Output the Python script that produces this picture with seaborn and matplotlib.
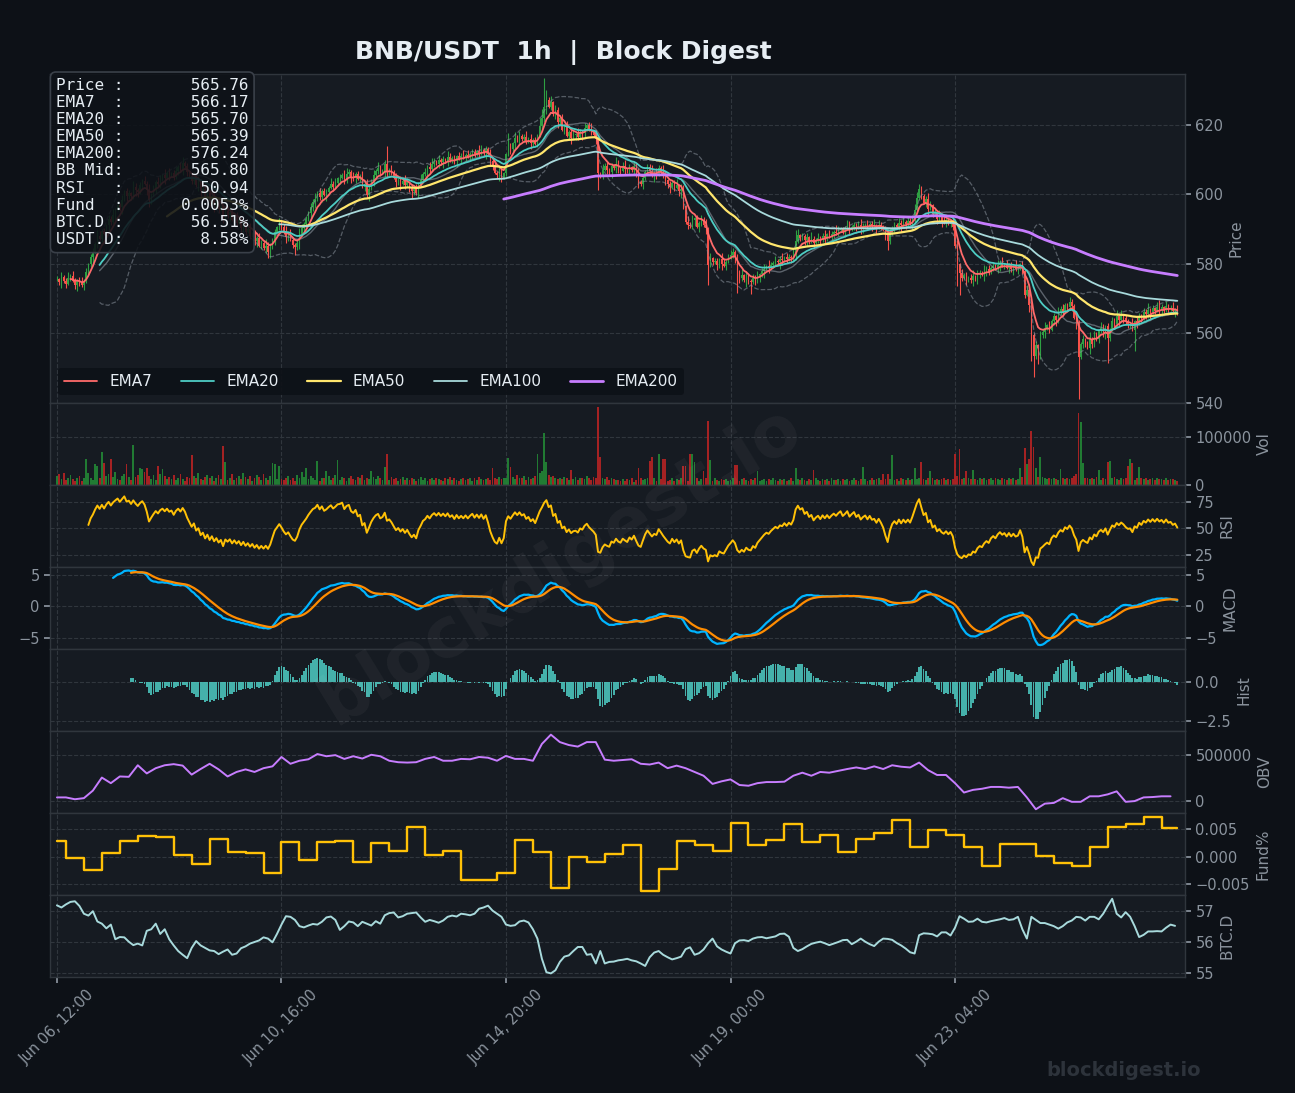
import numpy as np
import pandas as pd
import matplotlib
matplotlib.use("Agg")
import matplotlib.pyplot as plt
import matplotlib.dates as mdates
from matplotlib.ticker import MultipleLocator
import seaborn as sns

# ---- data (1h candles) ----
N = 500
dates = pd.date_range("2025-06-06 12:00", periods=N, freq="h")

close = np.array([
    575.5, 574.8, 576.2, 575.0, 574.2, 575.8, 576.5, 575.1, 574.0, 575.2,   # 0
    574.5, 573.8, 575.0, 577.5, 579.8, 582.0, 583.5, 585.8, 588.0, 587.2,
    589.5, 588.6, 591.0, 592.8, 591.9, 594.0, 595.5, 597.0, 596.2, 598.4,
    600.8, 599.5, 600.2, 599.4, 602.0, 601.2, 600.6, 602.5, 603.8, 603.0,
    601.2, 598.2, 600.0, 601.8, 603.5, 602.8, 604.6, 605.5, 604.8, 606.2,
    605.4, 606.0, 604.9, 606.8, 607.9, 607.2, 609.0, 608.1, 606.5, 605.2,   # 50
    603.8, 605.0, 602.6, 603.4, 600.8, 601.6, 599.2, 600.4, 598.0, 599.2,
    596.8, 597.8, 595.6, 596.4, 593.0, 595.2, 594.0, 594.8, 592.6, 593.6,
    591.8, 592.6, 590.4, 591.4, 589.2, 590.0, 588.0, 588.8, 586.6, 587.4,
    585.2, 586.0, 584.4, 585.2, 583.4, 584.6, 586.8, 589.2, 590.5, 591.8,
    590.6, 589.0, 587.8, 588.5, 586.9, 585.4, 584.8, 586.0, 588.4, 590.2,   # 100
    591.5, 592.8, 594.6, 596.2, 597.8, 598.5, 600.4, 599.2, 601.0, 599.8,
    600.6, 601.9, 603.0, 602.2, 603.2, 604.6, 604.8, 605.6, 604.2, 605.8,
    606.4, 605.0, 604.6, 605.9, 604.4, 605.0, 602.2, 603.0, 599.8, 601.6,
    603.8, 605.5, 606.8, 607.5, 606.2, 606.8, 608.8, 606.4, 607.0, 606.1,
    604.8, 603.5, 604.2, 603.0, 603.8, 602.5, 603.4, 602.0, 600.8, 601.5,   # 150
    600.2, 602.6, 604.0, 605.8, 606.5, 607.9, 607.2, 608.6, 609.4, 608.8,
    609.9, 609.2, 610.1, 609.5, 610.6, 609.8, 610.4, 609.6, 610.9, 610.2,
    611.0, 610.5, 611.4, 610.8, 611.6, 612.2, 611.5, 612.4, 611.8, 612.8,
    612.0, 613.0, 611.6, 609.5, 607.8, 606.2, 605.5, 606.8, 604.8, 606.0,
    611.5, 613.8, 613.0, 614.6, 616.2, 615.4, 616.8, 615.9, 616.5, 615.2,   # 200
    616.0, 614.8, 615.6, 614.5, 616.8, 619.5, 621.8, 625.0, 627.2, 625.2,
    626.4, 623.0, 624.2, 620.8, 621.8, 618.6, 619.4, 616.8, 618.0, 616.2,
    617.0, 617.2, 616.4, 618.0, 617.5, 619.0, 619.8, 618.6, 617.8, 617.0,
    615.8, 606.0, 605.2, 607.0, 608.0, 607.1, 606.5, 608.2, 607.5, 608.8,
    607.4, 606.8, 608.0, 607.2, 606.5, 607.8, 606.9, 608.0, 605.8, 603.5,   # 250
    602.8, 604.6, 606.5, 607.8, 606.6, 605.4, 606.2, 605.8, 607.6, 606.5,
    605.2, 604.0, 602.8, 602.0, 603.2, 601.8, 602.5, 600.8, 601.6, 596.5,
    592.0, 591.2, 590.8, 592.6, 593.0, 590.6, 591.8, 592.6, 591.0, 590.2,
    579.5, 581.6, 580.4, 580.8, 579.6, 581.2, 580.0, 579.4, 580.6, 581.8,
    582.6, 583.5, 582.0, 577.6, 575.8, 576.6, 575.2, 576.4, 575.0, 574.6,   # 300
    575.8, 574.8, 576.2, 577.0, 577.8, 578.6, 579.2, 578.8, 579.6, 580.2,
    580.8, 580.4, 581.2, 581.0, 581.8, 581.2, 582.0, 581.6, 582.8, 586.4,
    588.2, 587.4, 588.0, 586.8, 587.6, 586.5, 587.2, 586.0, 586.9, 587.5,
    586.8, 588.0, 587.4, 588.4, 587.8, 588.6, 589.2, 588.8, 589.6, 590.2,
    589.4, 590.0, 590.8, 589.9, 590.6, 591.2, 590.4, 591.0, 590.2, 590.8,   # 350
    591.2, 590.6, 591.4, 590.8, 591.0, 590.4, 591.2, 590.6, 589.8, 588.2,
    586.6, 588.8, 590.4, 591.2, 590.6, 591.8, 591.0, 592.0, 591.4, 592.2,
    591.6, 593.2, 595.5, 598.8, 601.5, 599.6, 597.6, 598.6, 595.8, 596.8,
    594.2, 595.0, 592.8, 593.6, 592.4, 591.8, 592.6, 591.5, 592.2, 590.6,
    585.0, 579.8, 577.2, 576.0, 576.8, 575.2, 576.0, 575.4, 576.4, 575.6,   # 400
    576.8, 577.4, 576.8, 577.8, 578.4, 577.6, 578.8, 579.4, 578.6, 579.6,
    580.2, 579.4, 579.8, 578.8, 579.6, 578.6, 579.2, 578.4, 578.6, 579.8,
    578.0, 571.0, 572.4, 568.0, 559.5, 553.5, 556.5, 555.8, 559.6, 560.4,
    561.4, 562.2, 561.0, 563.6, 564.8, 563.8, 565.8, 567.0, 566.2, 568.2,
    567.4, 569.0, 567.8, 564.5, 562.0, 553.0, 557.0, 558.2, 556.8, 555.8,   # 450
    558.4, 557.0, 559.4, 558.2, 560.5, 561.4, 560.2, 562.0, 558.6, 561.0,
    563.4, 562.6, 564.8, 563.8, 565.2, 564.4, 563.2, 562.4, 562.6, 561.0,
    563.4, 562.8, 565.0, 564.2, 566.0, 565.4, 566.8, 566.0, 567.2, 566.4,
    567.6, 566.8, 567.4, 566.6, 567.8, 566.9, 567.2, 566.4, 566.8, 565.76,
])

# wick lengths beyond the body, in half-units of price
wick_up = (
    "21312413212413122143121324121312214312132412132141"
    "31221341212314213122413121342131223141213214231213"
    "12413212431213241312214231213421312241321314212413"
    "23121431213241213421312143121324131221431213241231"
    "13214231241312143212413213241231421312413214231214"
    "21341213241312241321431212413214231213241312214312"
    "32121413213241231421312413213241213142131241321431"
    "12431213421312413212431213241321413212431214231213"
    "24131212413214231213241312143121342131224131214231"
    "13212413124132143121324131221413213241213421312413"
)
wick_dn = (
    "12413121342131224131213421312413212431213421312241"
    "31213241312214312132412131241321432121341213241312"
    "21431212413213241231421312413214231213241312214321"
    "13241213421312143121324131224131213421312413212431"
    "21324131221431213241213421312413214321213412132413"
    "32141213241312214312132412134213124132143121324131"
    "12413214231213241312214312132412134213124132143121"
    "24131221431213241213421312413214321213412132413122"
    "13421312413214321213412132413122143121324121342131"
    "21312413214321213412132413122143121324121342131241"
)
high_spikes = {147: 614.0, 201: 617.5, 215: 622.0, 216: 624.5, 217: 633.5,
               218: 630.0, 329: 589.8, 383: 600.5, 384: 602.8}
low_spikes = {94: 581.7, 106: 582.6, 241: 601.3, 290: 574.0, 303: 571.5,
              309: 571.2, 370: 584.0, 401: 573.5, 402: 571.0, 434: 552.0,
              435: 547.5, 437: 551.0, 438: 552.5, 455: 541.0, 468: 551.5,
              480: 555.0}

# volume in thousands
vol_base = """
18 22 12 25 9 15 21 11 8 14 19 7 13 16 24 15 10 12 20 14 9 11 18 23 13 16 27 12 10 19 22 14 17 9 24 16 20 13 11 26 15 18 12 21 10 17 23 14 19 12
16 11 20 9 14 22 12 8 17 13 10 19 15 24 11 9 16 21 13 18 8 14 20 12 26 17 10 15 22 9 13 18 11 24 16 12 19 8 14 21 17 10 23 13 9 18 15 20 11 16
12 9 15 18 10 14 8 20 13 11 16 9 12 19 14 10 17 8 13 15 11 18 9 14 21 12 10 16 13 8 15 19 11 9 17 13 20 10 14 12 8 16 11 18 13 9 15 12 10 17
11 14 8 12 17 10 13 9 15 11 7 12 16 10 14 8 11 13 9 15 12 10 8 14 11 16 9 13 10 7 12 15 9 11 14 8 13 10 16 12 9 11 14 10 8 13 12 17 11 15
14 18 12 16 11 20 15 13 18 10 17 12 14 19 22 25 28 30 24 20 16 18 14 12 15 11 17 13 10 14 12 16 9 13 15 11 18 14 10 16 13 20 18 15 12 17 10 14 11 9
10 8 12 7 11 9 14 6 10 8 13 9 11 15 12 10 14 8 16 11 9 12 7 10 13 8 11 9 14 10 12 8 15 11 9 13 7 12 10 14 9 11 8 13 10 7 12 9 11 8
10 13 9 12 8 11 14 10 7 12 9 13 11 8 10 12 7 11 9 13 10 8 12 9 11 7 10 13 8 12 11 9 14 10 8 12 9 11 13 10 7 12 9 11 8 13 10 9 12 8
11 9 12 8 10 13 9 7 11 10 12 8 10 14 9 11 13 10 15 12 9 11 13 10 12 8 14 11 9 13 10 12 15 11 13 9 12 10 14 11 13 10 12 9 11 14 10 12 9 11
14 18 16 12 15 10 13 11 16 12 9 13 11 14 10 12 15 9 13 11 10 14 12 9 13 11 15 10 12 14 16 20 18 22 25 24 19 17 15 16 13 12 14 11 15 12 10 13 14 11
15 12 14 18 22 25 20 16 13 15 11 14 12 16 13 10 15 12 14 11 13 16 12 10 14 11 15 13 12 16 10 14 12 15 11 13 9 12 14 10 13 11 12 9 14 10 12 11 9 8
"""
vol_spikes = {13: 54, 17: 44, 18: 40, 20: 69, 21: 45, 24: 54, 31: 44, 34: 82,
              37: 35, 38: 33, 40: 35, 45: 40, 47: 33, 60: 61, 74: 80, 75: 48,
              96: 45, 97: 44, 99: 38, 109: 27, 111: 35, 116: 50, 120: 29,
              125: 52, 140: 29, 146: 36, 147: 65, 194: 34, 201: 56, 202: 37,
              214: 65, 217: 107, 218: 48, 229: 31, 241: 163, 242: 57, 259: 35,
              264: 50, 265: 58, 268: 63, 270: 54, 271: 54, 279: 40, 280: 40,
              282: 65, 283: 65, 284: 47, 288: 28, 290: 132, 291: 52, 302: 42,
              303: 42, 312: 28, 329: 35, 337: 31, 359: 37, 368: 23, 370: 23,
              372: 61, 382: 34, 385: 48, 389: 29, 400: 63, 402: 75, 405: 29,
              408: 31, 429: 34, 431: 77, 432: 44, 433: 54, 434: 113, 435: 79,
              436: 35, 438: 58, 447: 33, 455: 149, 456: 130, 457: 46, 464: 30,
              468: 48, 469: 49, 477: 40, 478: 54, 479: 45, 482: 37}

# OBV every 4 hours (thousands)
obv_4h = [40, 40, 20, 32, 114, 256, 195, 268, 264, 390, 301, 358, 390, 402, 386,
          288, 349, 406, 345, 268, 317, 345, 317, 358, 378, 480, 406, 439, 455,
          512, 488, 500, 459, 488, 463, 504, 488, 439, 423, 419, 423, 459, 480,
          439, 439, 459, 455, 480, 472, 439, 492, 459, 459, 439, 622, 723, 642,
          610, 593, 642, 642, 451, 439, 447, 455, 406, 398, 419, 358, 386, 358,
          317, 276, 187, 215, 236, 175, 167, 195, 207, 207, 211, 276, 309, 276,
          317, 309, 329, 349, 366, 349, 378, 349, 390, 374, 366, 419, 337, 284,
          284, 195, 93, 122, 134, 154, 154, 146, 154, 40, -89, -28, -20, 32,
          -8, -8, 52, 52, 73, 106, -8, 0, 40, 44, 52, 52]

# funding rate (%), one value per 8h funding window
fund_8h = [0.0029, -0.0002, -0.0025, 0.0007, 0.0028, 0.0037, 0.0036, 0.0004,
           -0.0013, 0.0033, 0.0009, 0.0006, -0.0030, 0.0027, -0.0005, 0.0027,
           0.0029, -0.0010, 0.0026, 0.0011, 0.0054, 0.0003, 0.0011, -0.0042,
           -0.0043, -0.0030, 0.0031, 0.0009, -0.0057, -0.0001, -0.0009, 0.0005,
           0.0022, -0.0063, -0.0022, 0.0028, 0.0021, 0.0011, 0.0061, 0.0022,
           0.0030, 0.0059, 0.0027, 0.0040, 0.0009, 0.0032, 0.0043, 0.0067,
           0.0017, 0.0049, 0.0040, 0.0018, -0.0016, 0.0023, 0.0023, 0.0002,
           -0.0011, -0.0016, 0.0018, 0.0054, 0.0059, 0.0073, 0.0053]

# BTC dominance every 2 hours (%)
btc_d_2h = [
    57.17, 57.10, 57.20, 57.28, 57.30, 57.15, 56.90, 56.84, 56.98, 56.65,
    56.58, 56.43, 56.55, 56.08, 56.15, 56.14, 56.00, 55.89, 55.94, 55.88,
    56.35, 56.40, 56.58, 56.25, 56.40, 56.08, 55.88, 55.70, 55.58, 55.47,
    55.80, 56.02, 55.88, 55.80, 55.72, 55.70, 55.60, 55.68, 55.75, 55.58,
    55.62, 55.79, 55.85, 55.94, 55.99, 56.04, 56.14, 56.10, 55.98, 56.25,
    56.55, 56.82, 56.80, 56.70, 56.50, 56.46, 56.52, 56.57, 56.55, 56.64,
    56.78, 56.81, 56.70, 56.38, 56.50, 56.65, 56.62, 56.50, 56.64, 56.58,
    56.52, 56.66, 56.58, 56.85, 56.92, 56.94, 56.78, 56.82, 56.90, 56.92,
    56.94, 56.78, 56.64, 56.70, 56.66, 56.61, 56.68, 56.80, 56.84, 56.81,
    56.90, 56.88, 56.85, 56.90, 57.06, 57.10, 57.16, 57.00, 56.90, 56.80,
    56.55, 56.51, 56.53, 56.65, 56.68, 56.62, 56.40, 56.10, 55.45, 55.02,
    54.98, 55.08, 55.35, 55.52, 55.56, 55.70, 55.83, 55.83, 55.58, 55.60,
    55.30, 55.70, 55.30, 55.35, 55.36, 55.40, 55.42, 55.45, 55.40, 55.37,
    55.30, 55.22, 55.50, 55.65, 55.70, 55.58, 55.50, 55.43, 55.47, 55.52,
    55.76, 55.82, 55.58, 55.63, 55.75, 55.95, 56.10, 55.85, 55.75, 55.68,
    55.62, 55.95, 56.04, 56.05, 56.02, 56.10, 56.14, 56.15, 56.11, 56.14,
    56.17, 56.25, 56.26, 56.16, 55.80, 55.70, 55.76, 55.85, 55.93, 55.97,
    56.00, 55.95, 55.89, 55.94, 55.99, 56.05, 56.06, 55.92, 56.00, 56.10,
    56.00, 55.92, 55.86, 56.00, 56.10, 56.09, 56.06, 55.96, 55.88, 55.78,
    55.66, 55.62, 56.21, 56.27, 56.26, 56.24, 56.17, 56.30, 56.30, 56.20,
    56.45, 56.82, 56.74, 56.64, 56.65, 56.74, 56.64, 56.62, 56.66, 56.69,
    56.72, 56.76, 56.70, 56.72, 56.80, 56.40, 56.10, 56.80, 56.70, 56.60,
    56.60, 56.55, 56.50, 56.42, 56.50, 56.62, 56.68, 56.80, 56.78, 56.68,
    56.80, 56.80, 56.72, 56.90, 57.15, 57.38, 56.90, 56.78, 56.95, 56.80,
    56.50, 56.15, 56.22, 56.33, 56.33, 56.34, 56.33, 56.45, 56.55, 56.51,
]

info_rows = [("Price :", "565.76"), ("EMA7  :", "566.17"), ("EMA20 :", "565.70"),
             ("EMA50 :", "565.39"), ("EMA200:", "576.24"), ("BB Mid:", "565.80"),
             ("RSI   :", "50.94"), ("Fund  :", "0.0053%"), ("BTC.D :", "56.51%"),
             ("USDT.D:", "8.58%")]

# ---- derived series ----
s = pd.Series(close, index=dates)
opens = np.r_[close[0], close[:-1]]
up = close >= opens
body_lo = np.minimum(opens, close)
body_hi = np.maximum(opens, close)
high = body_hi + np.array([int(c) for c in wick_up[:N]]) * 0.45
low = body_lo - np.array([int(c) for c in wick_dn[:N]]) * 0.45
for k, v in high_spikes.items():
    high[k] = v
for k, v in low_spikes.items():
    low[k] = v

vol = np.array(vol_base.split(), float)[:N]
for k, v in vol_spikes.items():
    vol[k] = v
vol = vol * 1000

emas = {n: s.ewm(span=n, adjust=False, min_periods=n).mean() for n in (7, 20, 50, 100, 200)}
bb_mid = s.rolling(20).mean()
bb_sd = s.rolling(20).std(ddof=0)
delta = s.diff()
gain = delta.clip(lower=0).ewm(alpha=1 / 14, adjust=False, min_periods=14).mean()
loss = (-delta.clip(upper=0)).ewm(alpha=1 / 14, adjust=False, min_periods=14).mean()
rsi = 100 - 100 / (1 + gain / loss)
macd = s.ewm(span=12, adjust=False, min_periods=12).mean() - s.ewm(span=26, adjust=False, min_periods=26).mean()
signal = macd.ewm(span=9, adjust=False, min_periods=9).mean()
hist = macd - signal

fund_starts = np.r_[0, np.arange(4, N, 8), N]
fund = np.repeat(fund_8h, np.diff(fund_starts))

# ---- style ----
BG, PANEL, GRID, MUTED, FG = "#0d1117", "#161b22", "#30363d", "#8b949e", "#e6edf3"
sns.set_theme(style="darkgrid", rc={
    "figure.facecolor": BG, "axes.facecolor": PANEL, "axes.edgecolor": GRID,
    "grid.color": GRID, "grid.linestyle": "--", "grid.linewidth": 0.8,
    "xtick.color": MUTED, "ytick.color": MUTED, "axes.labelcolor": MUTED,
    "text.color": FG, "xtick.bottom": True, "ytick.right": True,
    "axes.linewidth": 1.0, "patch.edgecolor": "none", "patch.linewidth": 0,
})
plt.rcParams["font.family"] = ["DejaVu Sans"]

fig, axes = plt.subplots(8, 1, figsize=(12.95, 10.93), dpi=100, sharex=True,
                         gridspec_kw=dict(height_ratios=[4, 1, 1, 1, 1, 1, 1, 1], hspace=0,
                                          left=0.0386, right=0.915, top=0.932, bottom=0.106))
ax_p, ax_v, ax_r, ax_m, ax_h, ax_o, ax_f, ax_b = axes

UP, DN = "#2ea043", "#f85149"
ccol = np.where(up, UP, DN)
w = 0.62 / 24
wb = 0.8 / 24

# price
ax_p.vlines(dates, low, high, colors=ccol, lw=0.8, zorder=2)
ax_p.bar(dates, np.maximum(body_hi - body_lo, 0.15), bottom=body_lo, width=w, color=ccol,
         linewidth=0, zorder=2)
ax_p.plot(dates, bb_mid + 2 * bb_sd, color=MUTED, lw=0.9, ls="--", alpha=0.55, zorder=3)
ax_p.plot(dates, bb_mid - 2 * bb_sd, color=MUTED, lw=0.9, ls="--", alpha=0.55, zorder=3)
ax_p.plot(dates, bb_mid, color=MUTED, lw=1.0, alpha=0.6, zorder=3)
ema_style = {7: ("#ff6b6b", 1.3), 20: ("#4ecdc4", 1.3), 50: ("#ffe66d", 1.6),
             100: ("#a8dadc", 1.3), 200: ("#c77dff", 2.0)}
for n, (c, lw) in ema_style.items():
    sns.lineplot(x=dates, y=emas[n].values, ax=ax_p, color=c, lw=lw, estimator=None,
                 label=f"EMA{n}", zorder=4)
ax_p.set_ylim(540, 634.5)
ax_p.yaxis.set_major_locator(MultipleLocator(20))
ax_p.legend(loc="lower left", ncol=5, fontsize=11, facecolor=BG, edgecolor=GRID,
            framealpha=0.9, labelcolor=FG, borderaxespad=0.5, columnspacing=1.85,
            handlelength=2.2)
info = "\n".join(f"{k}{v:>13}" for k, v in info_rows)
ax_p.text(0.0053, 0.99, info, transform=ax_p.transAxes, ha="left", va="top",
          family="DejaVu Sans Mono", fontsize=11.5, color=FG, zorder=10, linespacing=1.18,
          bbox=dict(boxstyle="round,pad=0.35", facecolor=(13 / 255, 17 / 255, 23 / 255, 0.88),
                    edgecolor="#3a4049", linewidth=1.2))

# volume
vcol = np.where(up, "#238636", "#b62324")
ax_v.bar(dates, vol, width=wb, color=vcol, alpha=0.9, linewidth=0)
ax_v.yaxis.set_major_locator(MultipleLocator(100000))

# rsi
sns.lineplot(x=dates, y=rsi.values, ax=ax_r, color="#ffc107", lw=1.4, estimator=None)
ax_r.set_ylim(14, 91)
ax_r.yaxis.set_major_locator(MultipleLocator(25))

# macd
sns.lineplot(x=dates, y=macd.values, ax=ax_m, color="#00b4ff", lw=1.6, estimator=None)
sns.lineplot(x=dates, y=signal.values, ax=ax_m, color="#ff8c00", lw=1.6, estimator=None)
ax_m.yaxis.set_major_locator(MultipleLocator(5))

# histogram
ax_h.bar(dates, hist.values, width=wb, color="#4ecdc4", alpha=0.85, linewidth=0)
ax_h.set_ylim(-3.1, 2.1)
ax_h.yaxis.set_major_locator(MultipleLocator(2.5))

# obv
sns.lineplot(x=dates[::4], y=np.array(obv_4h) * 1000, ax=ax_o, color="#c77dff", lw=1.4, estimator=None)
ax_o.yaxis.set_major_locator(MultipleLocator(500000))

# funding
ax_f.plot(dates, fund, color="#ffc107", lw=1.7, drawstyle="steps-post")
ax_f.yaxis.set_major_locator(MultipleLocator(0.005))

# btc dominance
sns.lineplot(x=dates[::2], y=btc_d_2h, ax=ax_b, color="#a8dadc", lw=1.4, estimator=None)
ax_b.yaxis.set_major_locator(MultipleLocator(1))

for ax, name in zip(axes, ["Price", "Vol", "RSI", "MACD", "Hist", "OBV", "Fund%", "BTC.D"]):
    ax.set_ylabel(name, fontsize=11, color=MUTED)
    ax.set_xlabel("")
    ax.yaxis.set_label_position("right")
    ax.yaxis.tick_right()
    ax.tick_params(axis="y", labelsize=10.5, colors=MUTED, length=4)
    ax.grid(True, which="major", axis="both")
    for sp in ax.spines.values():
        sp.set_color(GRID)
ax_m.tick_params(axis="y", left=True, labelleft=True)

ax_b.set_xlim(dates[0] - pd.Timedelta(hours=3.1), dates[-1] + pd.Timedelta(hours=3.4))
ax_b.set_xticks(dates[::100])
ax_b.xaxis.set_major_formatter(mdates.DateFormatter("%b %d, %H:%M"))
for lab in ax_b.get_xticklabels():
    lab.set_rotation(45)
    lab.set_fontsize(10.5)
ax_b.tick_params(axis="x", colors=MUTED, length=4)

fig.text(0.435, 0.952, "BNB/USDT  1h  |  Block Digest", ha="center", va="center",
         fontsize=18, fontweight="bold", color=FG)
fig.text(0.432, 0.483, "blockdigest.io", ha="center", va="center", rotation=31.5,
         fontsize=50, fontweight="bold", color="white", alpha=0.045)
fig.text(0.868, 0.021, "blockdigest.io", ha="center", va="center",
         fontsize=14, fontweight="bold", color="#2d333b")

fig.savefig("out.png", dpi=100, facecolor=BG)
